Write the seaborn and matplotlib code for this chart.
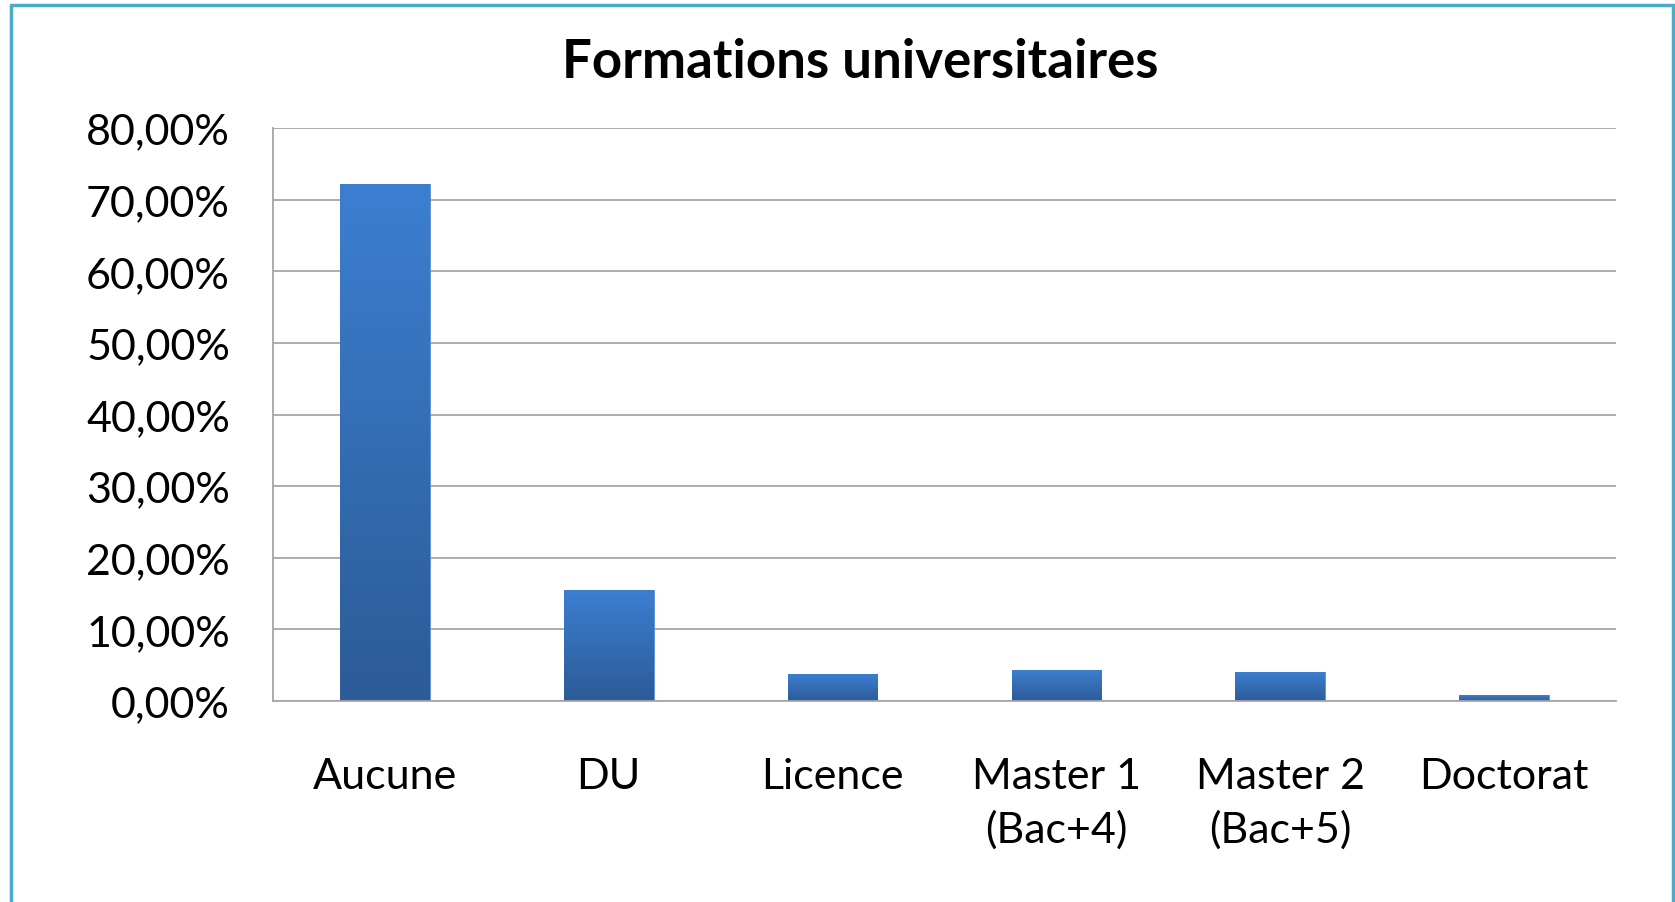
import numpy as np
import pandas as pd
import seaborn as sns
import matplotlib.pyplot as plt
from matplotlib.patches import Rectangle
from matplotlib.colors import LinearSegmentedColormap
from matplotlib.ticker import FuncFormatter

# Data
categories = ["Aucune", "DU", "Licence", "Master 1\n(Bac+4)", "Master 2\n(Bac+5)", "Doctorat"]
values = [72.2, 15.5, 3.7, 4.3, 4.0, 0.8]

df = pd.DataFrame({"formation": categories, "pct": values})

sns.set_style("white")
plt.rcParams['font.family'] = ['Lato', 'DejaVu Sans']
plt.rcParams['text.color'] = 'black'
plt.rcParams['xtick.labelcolor'] = 'black'
plt.rcParams['ytick.labelcolor'] = 'black'

fig = plt.figure(figsize=(16.75, 9.03), dpi=100)
ax = fig.add_axes([273 / 1675, 1 - 702 / 903, (1616 - 273) / 1675, (702 - 129) / 903])

sns.barplot(data=df, x="formation", y="pct", color="#3a78c8", width=0.40, ax=ax, saturation=1)

# vertical gradient on each bar
cmap = LinearSegmentedColormap.from_list("bar", ["#2c5b97", "#3c7fd1"])
grad = np.linspace(0, 1, 256).reshape(-1, 1)
for p in ax.patches:
    x0, y0 = p.get_x(), p.get_y()
    w, h = p.get_width(), p.get_height()
    im = ax.imshow(grad, cmap=cmap, origin="lower", aspect="auto",
                   extent=[x0, x0 + w, y0, y0 + h], zorder=p.get_zorder() + 0.1)
    im.set_clip_path(p)
    p.set_edgecolor("#5a8fd6")
    p.set_linewidth(0.6)

ax.set_xlim(-0.5, len(categories) - 0.5)
ax.set_ylim(0, 80)
ax.set_yticks(np.arange(0, 81, 10))
ax.yaxis.set_major_formatter(FuncFormatter(lambda v, _: f"{v:.2f}%".replace(".", ",")))
ax.grid(axis="y", color="#a6a6a6", linewidth=1.3)
ax.set_axisbelow(True)

for side in ["top", "right"]:
    ax.spines[side].set_visible(False)
for side in ["left", "bottom"]:
    ax.spines[side].set_color("#a6a6a6")
    ax.spines[side].set_linewidth(1.3)

ax.set_xticks(np.arange(-0.5, len(categories), 1), minor=True)
ax.tick_params(axis="x", which="minor", length=10, color="#a6a6a6", width=1.3, direction="out")
ax.tick_params(axis="x", which="major", length=0, labelsize=31, pad=40)
ax.tick_params(axis="y", length=11, color="#a6a6a6", width=1.3, labelsize=31, pad=20, direction="out")
for lbl in ax.get_xticklabels():
    lbl.set_linespacing(1.45)
ax.set_xlabel("")
ax.set_ylabel("")

fig.text(860 / 1675, 1 - 62 / 903, "Formations universitaires", ha="center", va="center",
         fontsize=38, fontweight="bold")

# chart frame
fig.patches.append(Rectangle((11 / 1675, -0.02), 1 - 11 / 1675 - 0.001, 1.02 - 6 / 903,
                             transform=fig.transFigure, fill=False,
                             edgecolor="#4bacc6", linewidth=2.5))

fig.savefig("out.png", dpi=100)
